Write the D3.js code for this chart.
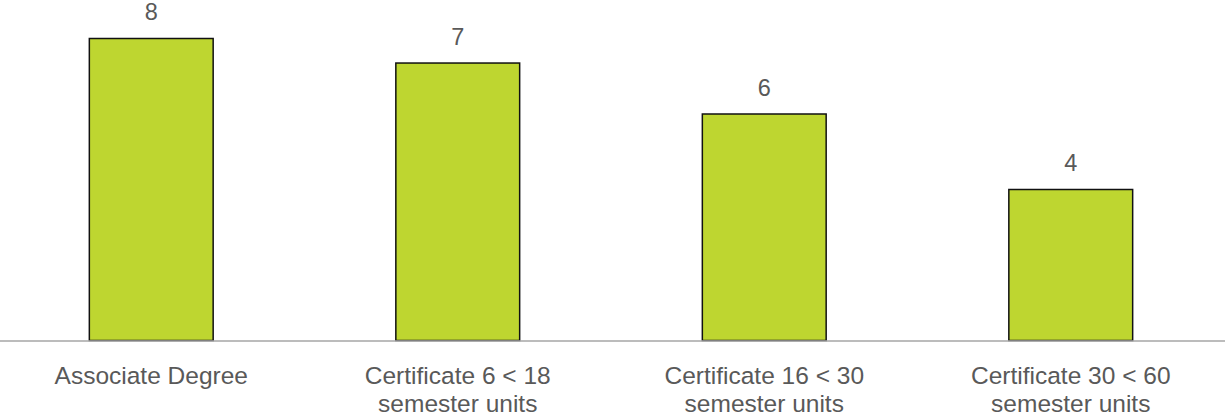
<!DOCTYPE html>
<html><head><meta charset="utf-8">
<script src="https://cdn.jsdelivr.net/npm/d3@7"></script>
<style>body{margin:0;background:#fff}svg{display:block}</style>
</head><body>
<svg id="chart" width="1225" height="420"></svg>
<script>
const categories = [["Associate Degree"], ["Certificate 6 < 18", "semester units"], ["Certificate 16 < 30", "semester units"], ["Certificate 30 < 60", "semester units"]];
const values = [8, 7.35, 6, 4];
const valueLabels = ["8", "7", "6", "4"];

const svg = d3.select("#chart");
const font = "'Liberation Sans', Arial, sans-serif";
const x = d3.scaleBand().domain(d3.range(values.length)).range([-2, 1224]).paddingInner(0.596).paddingOuter(0.298);
const y = d3.scaleLinear().domain([0, 8]).range([340.5, 38.5]);

svg.selectAll("rect.bar").data(values).join("rect").attr("class", "bar")
  .attr("x", (d, i) => x(i)).attr("width", x.bandwidth())
  .attr("y", d => y(d)).attr("height", d => y(0) - y(d))
  .attr("fill", "#BED630").attr("stroke", "#111").attr("stroke-width", 1.5);

svg.append("line").attr("x1", 0).attr("x2", 1225).attr("y1", y(0) + 0.5).attr("y2", y(0) + 0.5)
  .attr("stroke", "#a6a6a6").attr("stroke-width", 1.5);

svg.selectAll("text.val").data(values).join("text").attr("class", "val")
  .attr("x", (d, i) => x(i) + x.bandwidth() / 2).attr("y", d => y(d) - 18.5)
  .attr("text-anchor", "middle").attr("font-family", font).attr("font-size", 23.5)
  .attr("fill", "#595959").text((d, i) => valueLabels[i]);

const cat = svg.selectAll("text.cat").data(categories).join("text").attr("class", "cat")
  .attr("text-anchor", "middle").attr("font-family", font).attr("font-size", 24.5).attr("fill", "#595959");
cat.each(function(lines, i) {
  d3.select(this).selectAll("tspan").data(lines).join("tspan")
    .attr("x", x(i) + x.bandwidth() / 2).attr("y", (l, j) => 384 + j * 27.5).text(l => l);
});
</script>
</body></html>
